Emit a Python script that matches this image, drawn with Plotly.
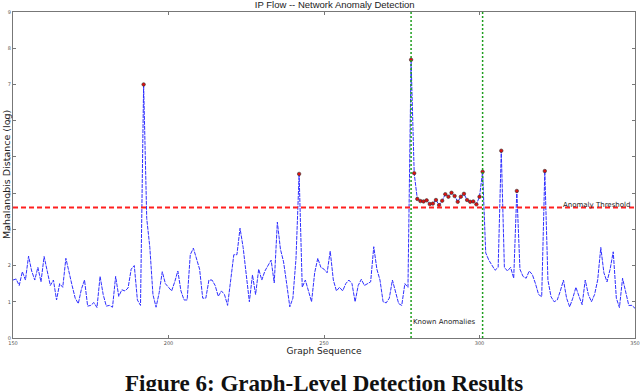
import plotly.graph_objects as go

# ---------------- data ----------------
seq_start = 150
distance = [
    1.6, 1.63, 1.45, 1.83, 1.6, 2.26, 1.85, 1.6, 1.95, 1.55,      # 150-159
    2.25, 1.85, 1.45, 1.6, 1.05, 1.5, 1.4, 2.2, 1.8, 1.45,        # 160-169
    1.1, 0.95, 1.35, 1.6, 0.88, 0.9, 0.98, 0.84, 1.7, 1.2,        # 170-179
    0.88, 0.9, 0.85, 1.7, 1.15, 1.33, 1.3, 1.38, 1.9, 2.0,        # 180-189
    1.05, 0.9, 7.0, 3.3, 2.5, 1.2, 0.85, 1.25, 1.83, 1.5,         # 190-199
    1.4, 1.3, 1.55, 1.85, 1.3, 1.05, 1.05, 2.3, 2.48, 2.2,        # 200-209
    1.9, 1.1, 1.1, 1.6, 1.6, 1.45, 1.15, 1.3, 1.2, 0.9,           # 210-219
    1.6, 2.3, 2.3, 3.03, 2.5, 1.65, 1.0, 1.74, 1.2, 1.9,          # 220-229
    1.6, 1.85, 2.0, 2.15, 1.52, 3.2, 2.45, 2.1, 1.5, 0.86,        # 230-239
    1.1, 2.2, 4.53, 1.4, 1.6, 1.3, 1.0, 1.8, 2.2, 1.95,           # 240-249
    1.9, 1.8, 2.4, 1.6, 1.3, 1.4, 1.3, 1.5, 1.6, 1.5,             # 250-259
    1.0, 1.45, 1.62, 1.45, 1.5, 1.55, 2.52, 1.9, 1.6, 1.0,        # 260-269
    0.97, 1.1, 1.6, 1.3, 0.95, 0.9, 1.5, 1.4, 7.68, 4.55,         # 270-279
    3.84, 3.78, 3.77, 3.80, 3.70, 3.71, 3.81, 3.67, 3.79, 3.97,   # 280-289
    3.90, 4.01, 3.92, 3.76, 3.90, 3.98, 3.81, 3.76, 3.77, 3.69,   # 290-299
    3.90, 4.59, 2.35, 2.15, 2.0, 1.87, 1.95, 5.17, 1.95, 1.85,    # 300-309
    1.95, 1.65, 4.06, 1.9, 1.7, 1.65, 1.85, 1.75, 1.5, 1.2,       # 310-319
    1.14, 4.61, 1.6, 1.14, 1.0, 1.05, 1.3, 1.6, 1.1, 0.86,        # 320-329
    1.1, 1.4, 1.15, 0.92, 1.6, 1.2, 1.0, 1.2, 1.6, 2.5,           # 330-339
    1.8, 1.55, 1.9, 2.38, 1.1, 0.84, 1.65, 1.3, 0.9, 0.9,         # 340-349
    0.82,                                                          # 350
]
sequence = list(range(seq_start, seq_start + len(distance)))
threshold = 3.6
known_anomaly_bounds = [278, 301]
x_ticks = [150, 200, 250, 300, 350]
y_ticks = [0, 1, 2, 3, 4, 5, 6, 7, 8, 9]

title_text = "IP Flow -- Network Anomaly Detection"
x_title = "Graph Sequence"
y_title = "Mahalanobis Distance (log)"
threshold_label = "Anomaly Threshold"
known_label = "Known Anomalies"
caption = "Figure 6: Graph-Level Detection Results"

anom_x = [s for s, d in zip(sequence, distance) if d > threshold]
anom_y = [d for d in distance if d > threshold]

# ---------------- figure ----------------
fig = go.Figure()

fig.add_trace(go.Scatter(
    x=sequence, y=distance, mode="lines",
    line=dict(color="#3030ff", width=1, dash="4px,1px"),
    showlegend=False, hoverinfo="skip"))

fig.add_trace(go.Scatter(
    x=anom_x, y=anom_y, mode="markers",
    marker=dict(color="#e01010", size=3.5, line=dict(color="#303030", width=0.6)),
    showlegend=False))

# threshold line
fig.add_trace(go.Scatter(
    x=[x_ticks[0], x_ticks[-1]], y=[threshold, threshold], mode="lines",
    line=dict(color="#ff2020", width=2, dash="5px,3px"),
    showlegend=False, hoverinfo="skip"))

# known anomaly bounds
for b in known_anomaly_bounds:
    fig.add_trace(go.Scatter(
        x=[b, b], y=[y_ticks[0], y_ticks[-1]], mode="lines",
        line=dict(color="#1e9e1e", width=1.5, dash="2px,2px"),
        showlegend=False, hoverinfo="skip"))

fig.add_annotation(x=x_ticks[-1], y=threshold, xref="x", yref="y",
                   text=threshold_label, showarrow=False,
                   xanchor="right", yanchor="bottom", xshift=-3, yshift=-3,
                   font=dict(family="DejaVu Sans", size=7, color="#222222"))
fig.add_annotation(x=known_anomaly_bounds[0], y=0.45, xref="x", yref="y",
                   text=known_label, showarrow=False,
                   xanchor="left", yanchor="middle", xshift=0,
                   font=dict(family="DejaVu Sans", size=7, color="#222222"))

# y-axis title as rotated annotation
fig.add_annotation(x=0, y=0.5, xref="paper", yref="paper",
                   text=y_title, showarrow=False, textangle=-90,
                   xanchor="center", yanchor="middle", xshift=-7,
                   font=dict(family="DejaVu Sans", size=9.5, color="#222222"))

fig.add_annotation(x=0.5, y=0, xref="paper", yref="paper",
                   text="<b>" + caption + "</b>", showarrow=False,
                   xanchor="center", yanchor="top", yshift=-31,
                   font=dict(family="Liberation Serif", size=23, color="#111111"))

axis_common = dict(
    showgrid=False, zeroline=False, showline=True, linecolor="#777777",
    linewidth=1, mirror="ticks", ticks="inside", ticklen=3, tickcolor="#777777",
    tickfont=dict(family="DejaVu Sans", size=5, color="#555555"),
    automargin=False,
)

fig.update_xaxes(range=[x_ticks[0], x_ticks[-1]], tickvals=x_ticks,
                 title=dict(text=x_title, standoff=2,
                            font=dict(family="DejaVu Sans", size=9, color="#222222")),
                 **axis_common)
fig.update_yaxes(range=[y_ticks[0], y_ticks[-1]], tickvals=y_ticks, **axis_common)

fig.update_layout(
    width=640, height=391,
    margin=dict(l=13, r=5, t=12, b=53, autoexpand=False),
    paper_bgcolor="white", plot_bgcolor="white",
    title=dict(text=title_text, x=0.523, xanchor="center", y=0.996, yanchor="top",
               font=dict(family="Liberation Sans", size=9.5, color="#222222")),
)

fig.write_html("out.html", config={"displayModeBar": False},
               post_script="document.body.style.margin='0';document.body.style.overflow='hidden';")
